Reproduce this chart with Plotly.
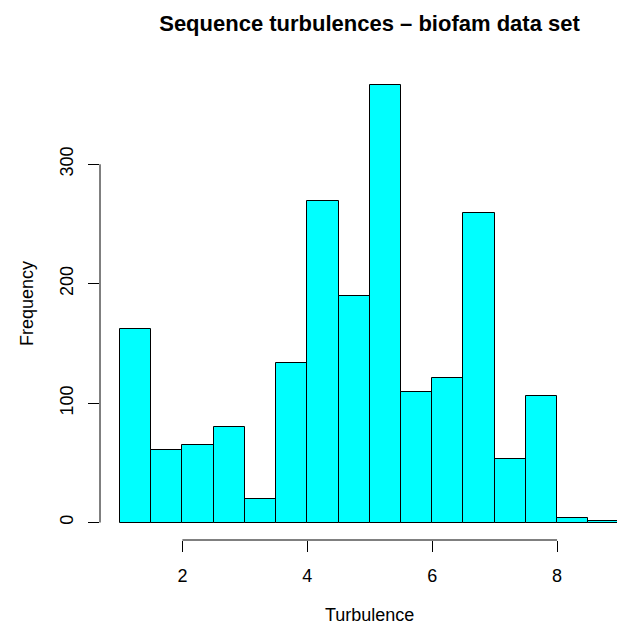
import plotly.graph_objects as go

# Histogram data (bins of width 0.5 from 1 to 9)
bin_edges = [1.0, 1.5, 2.0, 2.5, 3.0, 3.5, 4.0, 4.5, 5.0, 5.5, 6.0, 6.5, 7.0, 7.5, 8.0, 8.5, 9.0]
counts = [162, 61, 65, 80, 20, 134, 269, 190, 366, 109, 121, 259, 53, 106, 4, 1]
x_ticks = [2, 4, 6, 8]
y_ticks = [0, 100, 200, 300]

centers = [(a + b) / 2 for a, b in zip(bin_edges[:-1], bin_edges[1:])]
widths = [b - a for a, b in zip(bin_edges[:-1], bin_edges[1:])]

FONT = "Liberation Sans, Arial, Helvetica, sans-serif"

W, H = 617, 626
ML, MR, MT, MB = 100, 0, 68, 86
PW, PH = W - ML - MR, H - MT - MB

fig = go.Figure()
fig.add_trace(go.Bar(
    x=centers, y=counts, width=widths,
    marker=dict(color="#00FFFF", line=dict(color="black", width=1)),
    showlegend=False, hoverinfo="x+y",
))

ymax = max(counts)
ypad = 0.04 * ymax
xpad = 0.04 * (bin_edges[-1] - bin_edges[0])

# R-style axis lines spanning only the tick range
fig.add_shape(type="line", xref="x", yref="paper", x0=x_ticks[0], x1=x_ticks[-1], y0=0, y1=0,
              line=dict(color="black", width=1))
fig.add_shape(type="line", xref="paper", yref="y", x0=0, x1=0, y0=y_ticks[0], y1=y_ticks[-1],
              line=dict(color="black", width=1))

# axis titles (centred on the full R plot region)
fig.add_annotation(text="Turbulence", xref="paper", yref="paper",
                   x=(369.5 - ML) / PW, y=-(626 - (H - MB)) / PH,
                   xanchor="center", yanchor="bottom", showarrow=False, borderpad=0,
                   font=dict(family=FONT, size=18, color="black"))
fig.add_annotation(text="Frequency", xref="paper", yref="paper",
                   x=(27 - ML) / PW, y=0.5, textangle=-90,
                   xanchor="center", yanchor="middle", showarrow=False,
                   font=dict(family=FONT, size=18, color="black"))

fig.update_layout(
    width=W, height=H,
    margin=dict(l=ML, r=MR, t=MT, b=MB),
    paper_bgcolor="white", plot_bgcolor="white",
    font=dict(family=FONT, size=18, color="black"),
    title=dict(text="<b>Sequence turbulences – biofam data set</b>",
               xref="container", yref="container",
               x=369.5 / W, xanchor="center",
               y=1 - 23 / H, yanchor="middle",
               font=dict(family=FONT, size=22, color="black")),
    bargap=0,
    xaxis=dict(range=[bin_edges[0] - xpad, 8.96], tickvals=x_ticks,
               ticks="outside", ticklen=11, tickcolor="black", tickwidth=1,
               ticklabelstandoff=8, automargin=False,
               showgrid=False, zeroline=False, showline=False),
    yaxis=dict(range=[-ypad, ymax + ypad], tickvals=y_ticks, tickangle=-90,
               ticks="outside", ticklen=11, tickcolor="black", tickwidth=1,
               ticklabelstandoff=8, automargin=False,
               showgrid=False, zeroline=False, showline=False),
)

fig.write_html("out.html")
